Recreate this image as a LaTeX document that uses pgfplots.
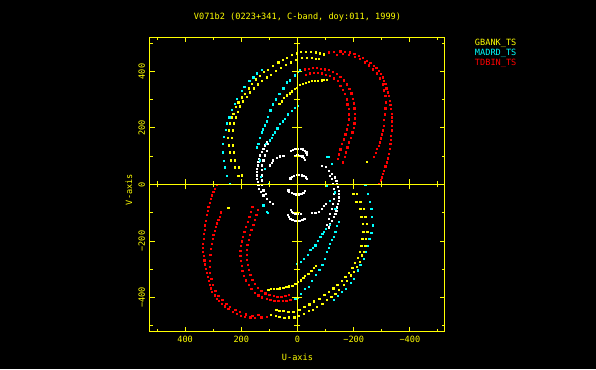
\documentclass[border=0pt]{standalone}
\usepackage{fontspec}
\setmainfont{DejaVu Sans Mono}
\usepackage{pgfplots}
\usepackage{pgfplotstable}
\pgfplotsset{compat=1.18}
\definecolor{pyellow}{RGB}{255,255,0}
\definecolor{pcyan}{RGB}{0,255,255}
\definecolor{pred}{RGB}{255,0,0}

% (u,v) points of one half-plane; each is also plotted at (-u,-v)
\pgfplotstableread{
u v
211 32
223 61
237 86
241 114
246 139
248 167
244 192
241 217
236 238
229 250
221 274
211 291
200 309
188 321
175 341
164 356
148 373
134 386
120 398
105 407
88 421
69 433
54 442
39 448
22 458
4 465
-12 470
-30 470
-47 471
-65 468
-79 465
-94 461
198 33
209 61
223 86
227 114
232 139
234 167
230 192
227 217
221 238
214 259
205 277
195 295
182 311
170 327
156 341
141 355
127 367
111 380
95 390
77 403
59 413
42 424
24 433
6 442
-15 449
-33 450
-51 448
-65 446
-76 444
-104 371
-94 370
-85 369
-72 368
-62 367
-51 366
-40 363
-30 360
-19 357
-8 352
2 344
10 339
20 330
27 323
38 316
49 306
57 295
65 286
-247 82
}\gbank

\pgfplotstableread{
u v
241 2
251 32
258 61
262 85
265 114
267 144
262 170
255 193
251 217
243 238
235 264
223 285
215 303
199 333
190 347
172 368
158 380
144 394
128 407
-8 405
0 400
10 387
27 369
39 362
51 341
65 320
77 302
88 284
97 263
105 239
111 224
116 210
123 196
128 185
134 167
140 145
146 132
-2 280
10 272
21 262
35 249
45 232
54 224
63 215
72 199
81 185
88 175
93 167
99 157
114 143
134 86
116 57
131 27
102 4
110 -97
122 -73
105 -99
}\madrd

\pgfplotstableread{
u v
-110 468
-129 470
-152 472
-168 470
-187 468
-202 463
-217 457
-232 449
-247 439
-259 431
-270 421
-280 412
-288 404
-296 392
-304 380
-308 367
-312 356
-316 341
-320 327
-324 313
-327 297
-330 282
-332 268
-334 252
-336 238
-336 224
-336 209
-335 192
-333 173
-331 159
-330 144
-327 127
-324 108
-321 93
-318 79
-312 65
-308 50
-304 38
-300 26
-295 15
-288 2
-140 460
-161 463
-183 459
-205 451
-222 444
-240 433
-254 422
-268 408
-282 394
-293 376
-302 355
-307 334
-312 313
-313 291
-312 270
-311 249
-308 228
-306 209
-303 192
-300 178
-296 164
-292 150
-288 137
-282 126
-277 113
-272 98
-26 408
-40 410
-54 412
-69 412
-83 410
-97 408
-111 405
-126 399
-140 392
-152 382
-165 369
-175 355
-184 339
-191 323
-197 305
-200 288
-202 270
-204 252
-204 235
-202 217
-199 201
-195 185
-190 167
-183 150
-177 132
-172 114
-167 97
-161 79
-30 390
-44 394
-58 396
-72 396
-86 394
-101 390
-115 385
-129 376
-142 366
-152 351
-161 336
-168 320
-174 302
-177 284
-181 267
-182 249
-181 231
-179 213
-175 196
-170 178
-165 160
-158 143
-152 125
-147 107
-142 90
}\tdbin

\pgfplotstableread{
u v
24 120
17 124
8 127
-1 127
-10 127
-19 125
-26 120
-31 114
-34 107
10 102
1 104
-8 103
-17 100
-22 95
-25 88
26 22
20 28
13 32
4 34
-5 34
-14 33
-22 30
-30 26
-33 20
110 151
116 139
122 127
128 115
134 104
138 92
140 80
142 68
146 57
146 45
146 33
146 21
142 9
140 -2
138 -14
131 -26
122 -38
110 -50
99 -62
87 -67
105 143
110 121
116 104
122 86
126 68
128 51
128 33
128 15
126 -2
122 -20
114 -32
99 68
93 76
87 86
75 96
63 100
51 101
}\ground

\pgfplotsset{
  dot/.style={only marks, mark=square*, mark size=0.6pt, mark options={draw=none}},
  frame/.style={
    at={(150pt,37.3pt)}, anchor=south west,
    width=295pt, height=294.4pt, scale only axis,
    xmin=-525, xmax=525, ymin=-521, ymax=521, x dir=reverse,
  },
}

\begin{document}
\begin{tikzpicture}[font=\fontsize{8.6}{10}\selectfont]
\fill[black] (0,0) rectangle (596pt,369pt);
\begin{axis}[
  frame,
  axis line style={pyellow, line width=1pt},
  tick style={pyellow, line width=1pt},
  tick align=inside,
  major tick length=5pt, minor tick length=3pt,
  xtick={-400,-200,0,200,400}, minor xtick={-500,-300,-100,100,300,500},
  ytick={-400,-200,0,200,400}, minor ytick={-500,-300,-100,100,300,500},
  xticklabels={−400,−200,0,200,400},
  yticklabels={−400,−200,0,200,400},
  xticklabel style={text=pyellow, anchor=base, yshift=-11pt},
  yticklabel style={text=pyellow, xshift=-5pt, rotate=90, anchor=base},
  title={V071b2 (0223+341, C-band, doy:011, 1999)},
  every axis title/.style={at={(0.5,1.0611)}, anchor=base, text=pyellow},
  xlabel={U-axis}, ylabel={V-axis},
  every axis x label/.style={at={(0.5,-0.0995)}, anchor=base, text=pyellow},
  every axis y label/.style={at={(-0.061,0.483)}, rotate=90, anchor=base, text=pyellow},
  legend style={at={(1.0983,0.9983)}, anchor=north west, draw=none, fill=none,
    inner sep=0pt, outer sep=0pt, row sep=0pt,
    nodes={inner sep=1pt, text height=6.5pt, text depth=1.5pt}},
  legend cell align=left,
  legend image code/.code={},
]
\addplot[dot, white, forget plot] table[x=u, y=v] {\ground};
\addplot[dot, white, forget plot] table[x expr=-\thisrow{u}, y expr=-\thisrow{v}] {\ground};
\addplot[dot, pyellow] table[x=u, y=v] {\gbank};
\addlegendentry{\textcolor{pyellow}{GBANK\_TS}}
\addplot[dot, pcyan] table[x=u, y=v] {\madrd};
\addlegendentry{\textcolor{pcyan}{MADRD\_TS}}
\addplot[dot, pred] table[x=u, y=v] {\tdbin};
\addlegendentry{\textcolor{pred}{TDBIN\_TS}}
\addplot[dot, pyellow, forget plot] table[x expr=-\thisrow{u}, y expr=-\thisrow{v}] {\gbank};
\addplot[dot, pcyan, forget plot] table[x expr=-\thisrow{u}, y expr=-\thisrow{v}] {\madrd};
\addplot[dot, pred, forget plot] table[x expr=-\thisrow{u}, y expr=-\thisrow{v}] {\tdbin};
\end{axis}
\begin{axis}[
  frame,
  axis lines=center,
  axis line style={pyellow, line width=1pt, -},
  tick style={pyellow, line width=1pt},
  tick align=center,
  major tick length=10pt, minor tick length=6pt,
  xtick={-400,-200,200,400}, minor xtick={-500,-300,-100,100,300,500},
  ytick={-400,-200,200,400}, minor ytick={-500,-300,-100,100,300,500},
  xticklabels={}, yticklabels={},
]
\end{axis}
\pgfresetboundingbox
\useasboundingbox (0,0) rectangle (596pt,369pt);
\end{tikzpicture}
\end{document}
